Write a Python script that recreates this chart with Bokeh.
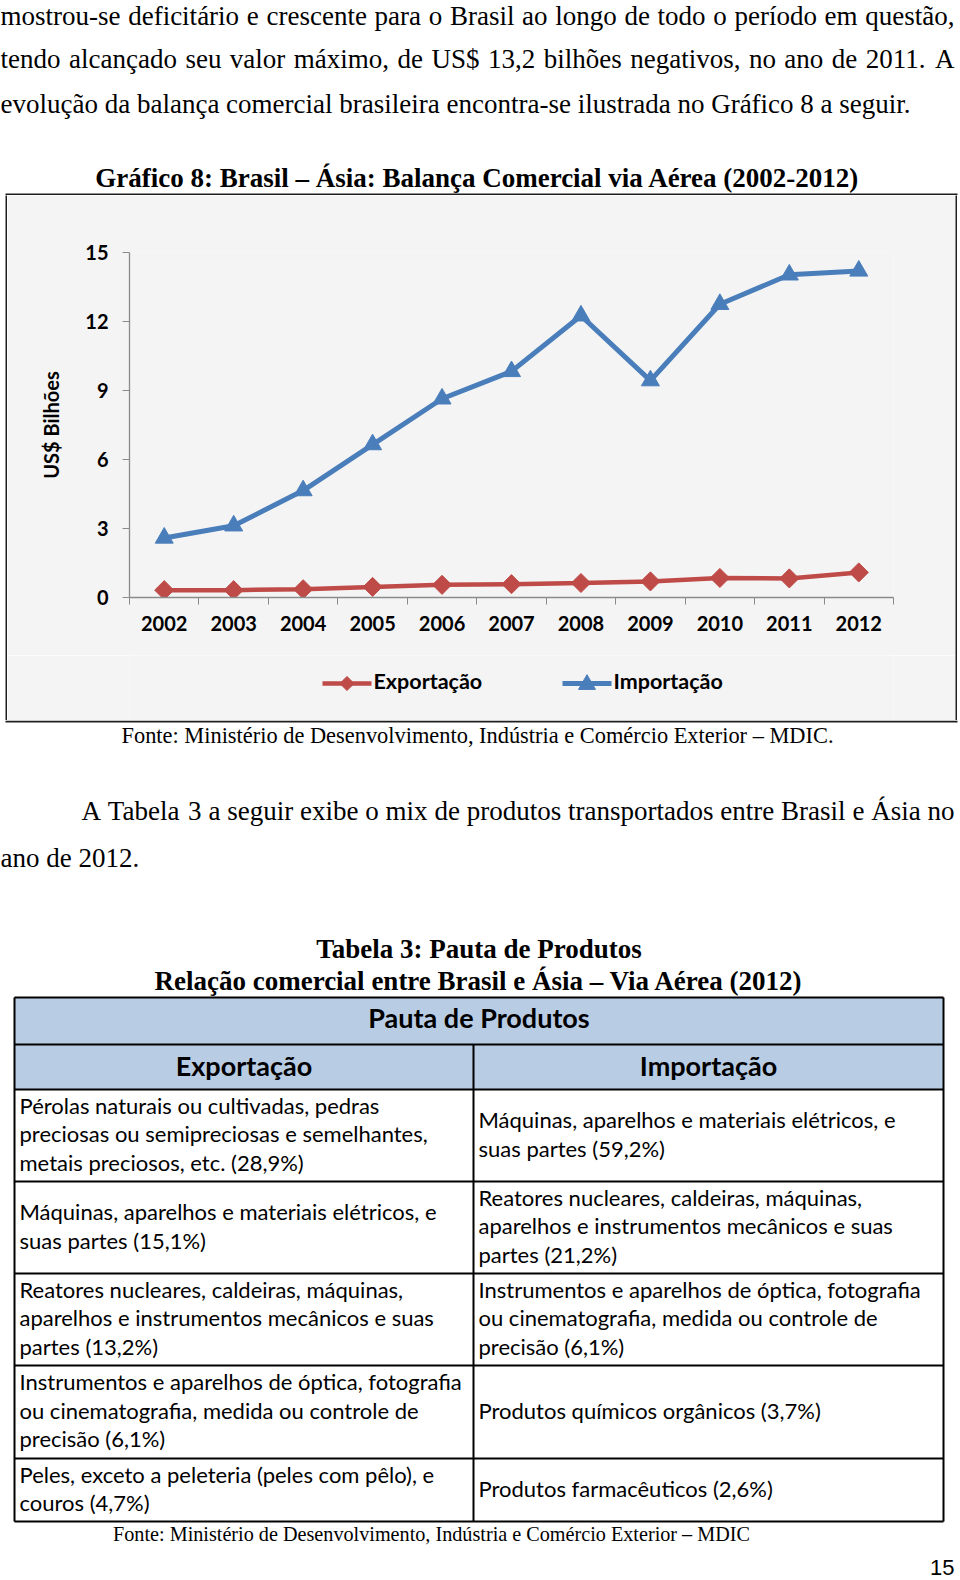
from bokeh.plotting import figure
from bokeh.models import Range1d, FixedTicker, ColumnDataSource, Spacer
from bokeh.layouts import column, row
from bokeh.core.properties import value
from bokeh.embed import file_html
from bokeh.resources import INLINE

# ---------------- data ----------------
years = [2002, 2003, 2004, 2005, 2006, 2007, 2008, 2009, 2010, 2011, 2012]
exportacao = [0.32, 0.32, 0.36, 0.46, 0.55, 0.58, 0.63, 0.70, 0.85, 0.83, 1.09]
importacao = [2.59, 3.12, 4.65, 6.65, 8.64, 9.83, 12.25, 9.43, 12.75, 14.03, 14.2]
series_labels = ["Exportação", "Importação"]
y_ticks = [0, 3, 6, 9, 12, 15]
y_axis_title = "US$ Bilhões"

paragraph_top = [
    "mostrou-se deficitário e crescente para o Brasil ao longo de todo o período em questão,",
    "tendo alcançado seu valor máximo, de US$ 13,2 bilhões negativos, no ano de 2011. A",
    "evolução da balança comercial brasileira encontra-se ilustrada no Gráfico 8 a seguir.",
]
chart_title = "Gráfico 8: Brasil – Ásia: Balança Comercial via Aérea (2002-2012)"
chart_source = "Fonte: Ministério de Desenvolvimento, Indústria e Comércio Exterior – MDIC."
paragraph_mid = [
    "A Tabela 3 a seguir exibe o mix de produtos transportados entre Brasil e Ásia no",
    "ano de 2012.",
]
table_title = ["Tabela 3: Pauta de Produtos",
               "Relação comercial entre Brasil e Ásia – Via Aérea (2012)"]
table_header = "Pauta de Produtos"
table_columns = ["Exportação", "Importação"]
export_products = [
    ["Pérolas naturais ou cultivadas, pedras", "preciosas ou semipreciosas e semelhantes,", "metais preciosos, etc. (28,9%)"],
    ["Máquinas, aparelhos e materiais elétricos, e", "suas partes (15,1%)"],
    ["Reatores nucleares, caldeiras, máquinas,", "aparelhos e instrumentos mecânicos e suas", "partes (13,2%)"],
    ["Instrumentos e aparelhos de óptica, fotografia", "ou cinematografia, medida ou controle de", "precisão (6,1%)"],
    ["Peles, exceto a peleteria (peles com pêlo), e", "couros (4,7%)"],
]
import_products = [
    ["Máquinas, aparelhos e materiais elétricos, e", "suas partes (59,2%)"],
    ["Reatores nucleares, caldeiras, máquinas,", "aparelhos e instrumentos mecânicos e suas", "partes (21,2%)"],
    ["Instrumentos e aparelhos de óptica, fotografia", "ou cinematografia, medida ou controle de", "precisão (6,1%)"],
    ["Produtos químicos orgânicos (3,7%)"],
    ["Produtos farmacêuticos (2,6%)"],
]
table_source = "Fonte: Ministério de Desenvolvimento, Indústria e Comércio Exterior – MDIC"
page_number = "15"

# ---------------- style / layout ----------------
SERIF = "Liberation Serif"
SANS = "Lato"
RED = "#be4b48"
BLUE = "#4a7ebb"
AXIS = "#8a8a8a"
BG = "#f4f4f4"
BORDER = "#1e1e1e"
HEAD = "#b8cce4"
# offset (in em) between the requested y and the drawn alphabetic baseline
BASE_SHIFT = {SERIF: 0.34, SANS: 0.39, "Liberation Sans": 0.35}

# Times-compatible advance widths (per 1000 em) used to justify paragraph lines
_W = {" ": 250, "a": 444, "b": 500, "c": 444, "d": 500, "e": 444, "f": 333, "g": 500,
      "h": 500, "i": 278, "j": 278, "k": 500, "l": 278, "m": 778, "n": 500, "o": 500,
      "p": 500, "q": 500, "r": 333, "s": 389, "t": 278, "u": 500, "v": 500, "w": 722,
      "x": 500, "y": 500, "z": 444, "A": 722, "B": 667, "C": 667, "D": 722, "E": 611,
      "F": 556, "G": 722, "I": 333, "M": 889, "S": 556, "T": 611, "U": 722, "Á": 722,
      ",": 250, ".": 250, "-": 333, "$": 500, ":": 278, "(": 333, ")": 333, "–": 500}
for _a, _b in [("á", "a"), ("ã", "a"), ("â", "a"), ("é", "e"), ("ê", "e"), ("í", "i"),
               ("ó", "o"), ("õ", "o"), ("ô", "o"), ("ú", "u"), ("ç", "c")]:
    _W[_a] = _W[_b]


def word_w(w, size):
    return sum(_W.get(ch, 500) for ch in w) * size / 1000.0


def F(v):
    return f"{v:.2f}px"


def text_fig(height, y_top, y_bottom, width=960, xr=(0, 960), bg="white"):
    p = figure(width=width, height=height, title=None,
               x_range=Range1d(*xr), y_range=Range1d(y_bottom, y_top),
               x_axis_type=None, y_axis_type=None, toolbar_location=None,
               output_backend="svg", min_border=0, outline_line_color=None,
               background_fill_color=bg, border_fill_color=bg)
    return p


def put(p, x, y, txt, size, font=SERIF, style="normal", align="left", color="black"):
    xs = x if isinstance(x, list) else [x]
    ts = txt if isinstance(txt, list) else [txt]
    ys = [y - BASE_SHIFT[font] * size] * len(xs)
    p.text(x=xs, y=ys, text=ts, text_font=value(font), text_font_size=F(size),
           text_font_style=style, text_align=align, text_baseline="alphabetic",
           text_color=color)


def put_justified(p, x0, x1, y, line, size):
    words = line.split(" ")
    nat = sum(word_w(w, size) for w in words)
    gap = (x1 - x0 - nat) / (len(words) - 1)
    xs, cur = [], x0
    for w in words:
        xs.append(cur)
        cur += word_w(w, size) + gap
    put(p, xs, y, words, size)


# ---- top text ----
top = text_fig(195, 0, 195)
put_justified(top, 0, 954, 24.5, paragraph_top[0], 27)
put_justified(top, 0, 954, 68, paragraph_top[1], 27)
put(top, 0, 113, paragraph_top[2], 27)
put(top, 477, 187, chart_title, 27, style="bold", align="center")
top.quad(left=[5], right=[957], top=[193], bottom=[195], fill_color=BORDER, line_color=None)

# ---- chart ----
CH_W, CH_L, CH_R = 948, 122, 62
src = ColumnDataSource(dict(year=years, exp=exportacao, imp=importacao))
chart = figure(width=CH_W, height=460, title=None,
               x_range=Range1d(years[0] - 0.5, years[-1] + 0.5), y_range=Range1d(y_ticks[0], y_ticks[-1]),
               toolbar_location=None, output_backend="svg",
               min_border_left=CH_L, min_border_right=CH_R, min_border_top=57, min_border_bottom=58,
               background_fill_color=BG, border_fill_color=BG, outline_line_color=None)
chart.grid.visible = False

chart.line("year", "exp", source=src, line_color=RED, line_width=4.5)
chart.scatter("year", "exp", source=src, marker="square", angle=0.785398, size=13.5,
              fill_color=RED, line_color=RED)
chart.line("year", "imp", source=src, line_color=BLUE, line_width=5)
chart.scatter("year", "imp", source=src, marker="triangle", size=18,
              fill_color=BLUE, line_color=BLUE)

xax = chart.xaxis[0]
xax.ticker = FixedTicker(ticks=years, minor_ticks=[y - 0.5 for y in years] + [years[-1] + 0.5])
xax.major_tick_out = 0
xax.major_tick_in = 0
xax.minor_tick_out = 7
xax.minor_tick_in = 0
xax.minor_tick_line_color = AXIS
xax.axis_line_color = AXIS
xax.axis_line_width = 1.3
xax.major_label_standoff = 11
xax.major_label_text_font = SANS
xax.major_label_text_font_style = "bold"
xax.major_label_text_font_size = F(20)
xax.major_label_text_color = "black"

yax = chart.yaxis[0]
yax.ticker = FixedTicker(ticks=y_ticks)
yax.minor_tick_line_color = None
yax.major_tick_out = 7
yax.major_tick_in = 0
yax.major_tick_line_color = AXIS
yax.axis_line_color = AXIS
yax.axis_line_width = 1.3
yax.major_label_standoff = 14
yax.major_label_text_font = SANS
yax.major_label_text_font_style = "bold"
yax.major_label_text_font_size = F(20)
yax.major_label_text_color = "black"
yax.axis_label = y_axis_title
yax.axis_label_text_font = SANS
yax.axis_label_text_font_style = "bold"
yax.axis_label_text_font_size = F(20)
yax.axis_label_text_color = "black"
yax.axis_label_standoff = 19

# ---- legend strip (inside the chart box, below the axis) ----
# the column aligns this strip's frame with the chart frame (page x 129..893)
leg = text_fig(65, 655, 720, width=CH_W, xr=(7 + CH_L, 7 + CH_W - CH_R), bg=BG)
KEY_Y = 683
key_x0 = [322, 562]
key_len = 49
leg.segment(x0=key_x0, x1=[k + key_len for k in key_x0], y0=[KEY_Y, KEY_Y], y1=[KEY_Y, KEY_Y],
            line_color=[RED, BLUE], line_width=[4.5, 5])
leg.scatter(x=[key_x0[0] + key_len / 2], y=[KEY_Y], marker="square", angle=0.785398, size=10,
            fill_color=RED, line_color=RED)
leg.scatter(x=[key_x0[1] + key_len / 2], y=[KEY_Y + 1], marker="triangle", size=17,
            fill_color=BLUE, line_color=BLUE)
put(leg, [k + key_len + 2 for k in key_x0], 689, series_labels, 21.5, font=SANS, style="bold")


def vbar_fig():
    b = figure(width=2, height=525, title=None, x_axis_type=None, y_axis_type=None,
               toolbar_location=None, output_backend="svg", min_border=0,
               outline_line_color=None, background_fill_color=BORDER, border_fill_color=BORDER)
    return b


chart_row = row(Spacer(width=5, height=525), vbar_fig(), column(chart, leg, spacing=0), vbar_fig())

# ---- bottom text + table ----
bot = text_fig(860, 720, 1580)
bot.quad(left=[5], right=[957], top=[720], bottom=[722], fill_color=BORDER, line_color=None)
put(bot, 477, 743, chart_source, 22.4, align="center")
put_justified(bot, 81, 954, 820, paragraph_mid[0], 27)
put(bot, 0, 867, paragraph_mid[1], 27)
put(bot, 478.5, 958, table_title[0], 27, style="bold", align="center")
put(bot, 478.5, 990, table_title[1], 27, style="bold", align="center")

TL, TR, TD = 14, 943, 473
T_TOP, T_H1, T_H2 = 997, 1044, 1089
row_edges = [1089, 1181, 1273, 1365, 1458, 1521]

bot.quad(left=[TL], right=[TR], top=[T_TOP], bottom=[T_H2], fill_color=HEAD, line_color=None)
h_lines = [T_TOP, T_H1] + row_edges
bot.segment(x0=[TL] * len(h_lines), x1=[TR] * len(h_lines), y0=h_lines, y1=h_lines,
            line_color="black", line_width=2)
bot.segment(x0=[TL, TR, TD], x1=[TL, TR, TD], y0=[T_TOP, T_TOP, T_H1], y1=[row_edges[-1]] * 3,
            line_color="black", line_width=2)

put(bot, (TL + TR) / 2, 1028, table_header, 27, font=SANS, style="bold", align="center")
put(bot, (TL + TD) / 2, 1076, table_columns[0], 27, font=SANS, style="bold", align="center")
put(bot, (TD + TR) / 2, 1076, table_columns[1], 27, font=SANS, style="bold", align="center")

PITCH = 28.5
for cells, x0 in [(export_products, 19), (import_products, 478)]:
    for i, lines in enumerate(cells):
        c = (row_edges[i] + row_edges[i + 1]) / 2
        n = len(lines)
        for k, ln in enumerate(lines):
            put(bot, x0, c + 7 + (k - (n - 1) / 2) * PITCH, ln, 22, font=SANS)

put(bot, 431, 1540, table_source, 20.2, align="center")
put(bot, 954, 1575, page_number, 22, font="Liberation Sans", align="right")

layout = column(top, chart_row, bot, spacing=0)
open("out.html", "w").write(file_html(layout, INLINE))
